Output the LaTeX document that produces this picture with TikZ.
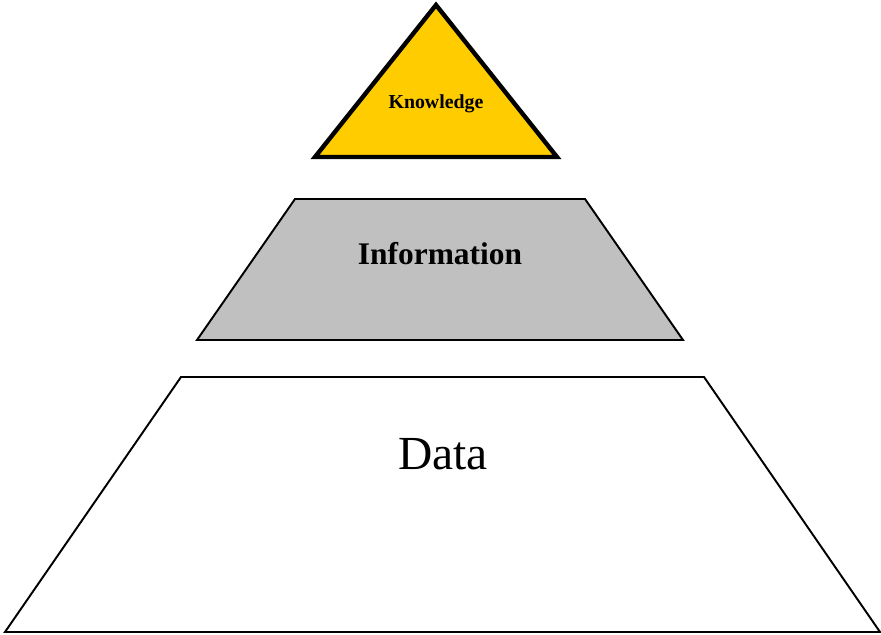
\documentclass[tikz,border=0pt]{standalone}
\usepackage{fontspec}
\setmainfont{Liberation Serif}
\definecolor{KnowCol}{RGB}{255,204,0}
\definecolor{InfoCol}{RGB}{192,192,192}

\begin{document}
\begin{tikzpicture}
            \useasboundingbox (0,0) rectangle (17.62,12.68);

            % layers of the pyramid
            \draw[line width=2.5pt,line join=miter,fill=KnowCol] (8.72,12.58) -- (11.14,9.54) -- (6.30,9.54) -- cycle;
            \draw[line width=1.1pt,line join=miter,fill=InfoCol] (5.90,8.70) -- (11.70,8.70) -- (13.66,5.88) -- (3.94,5.88) -- cycle;
            \draw[line width=1.1pt,line join=miter,fill=white] (3.62,5.14) -- (14.08,5.14) -- (17.60,0.04) -- (0.10,0.04) -- cycle;

            \node (knowledge) at (8.72,10.60) {\fontsize{11.3}{13}\selectfont\bfseries Knowledge};
            \node (information) at (8.80,7.60) {\fontsize{17.9}{20}\selectfont\bfseries Information};
            \node (data) at (8.86,3.60) {\fontsize{27}{30}\selectfont Data};
        \end{tikzpicture}
\end{document}
